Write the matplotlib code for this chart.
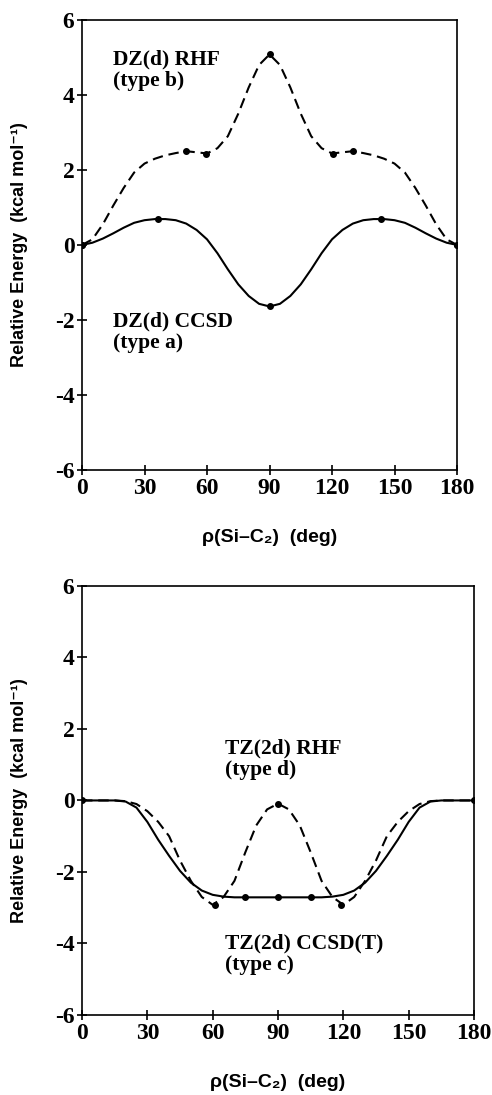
import matplotlib
matplotlib.use("Agg")
from matplotlib import pyplot as plt

# torsion angle grid (deg), read every 5 deg
rho = [0, 5, 10, 15, 20, 25, 30, 35, 40, 45, 50, 55, 60, 65, 70, 75, 80, 85, 90,
       95, 100, 105, 110, 115, 120, 125, 130, 135, 140, 145, 150, 155, 160, 165, 170, 175, 180]

# top panel: DZ(d)
dz_rhf = [0, 0.15, 0.55, 1.05, 1.52, 1.93, 2.17, 2.30, 2.39, 2.45, 2.50, 2.47, 2.44, 2.58, 2.90, 3.50, 4.20, 4.80, 5.08,
          4.80, 4.20, 3.50, 2.90, 2.58, 2.44, 2.47, 2.50, 2.45, 2.39, 2.30, 2.17, 1.93, 1.52, 1.05, 0.55, 0.15, 0]
dz_ccsd = [0, 0.06, 0.17, 0.31, 0.46, 0.59, 0.66, 0.69, 0.69, 0.66, 0.57, 0.40, 0.15, -0.22, -0.65, -1.05, -1.36, -1.57, -1.64,
           -1.57, -1.36, -1.05, -0.65, -0.22, 0.15, 0.40, 0.57, 0.66, 0.69, 0.69, 0.66, 0.59, 0.46, 0.31, 0.17, 0.06, 0]
dz_rhf_pts_x = [0, 50, 59.5, 90, 120.5, 130, 180]
dz_rhf_pts_y = [0, 2.50, 2.43, 5.08, 2.43, 2.50, 0]
dz_ccsd_pts_x = [0, 36.6, 90, 143.4, 180]
dz_ccsd_pts_y = [0, 0.69, -1.64, 0.69, 0]

# bottom panel: TZ(2d)
tz_rhf = [0, 0, 0, 0, -0.02, -0.10, -0.30, -0.60, -1.00, -1.68, -2.25, -2.70, -2.92, -2.70, -2.25, -1.45, -0.70, -0.25, -0.09,
          -0.25, -0.70, -1.45, -2.25, -2.70, -2.92, -2.70, -2.25, -1.68, -1.00, -0.60, -0.30, -0.10, -0.02, 0, 0, 0, 0]
tz_ccsd = [0, 0, 0, 0, -0.03, -0.20, -0.60, -1.10, -1.55, -1.97, -2.30, -2.52, -2.64, -2.69, -2.71, -2.71, -2.71, -2.71, -2.71,
           -2.71, -2.71, -2.71, -2.71, -2.69, -2.64, -2.52, -2.30, -1.97, -1.55, -1.10, -0.60, -0.20, -0.03, 0, 0, 0, 0]
tz_rhf_pts_x = [0, 61, 90, 119, 180]
tz_rhf_pts_y = [0, -2.93, -0.09, -2.93, 0]
tz_ccsd_pts_x = [75, 90, 105]
tz_ccsd_pts_y = [-2.71, -2.71, -2.71]

xticks = [0, 30, 60, 90, 120, 150, 180]
yticks = [-6, -4, -2, 0, 2, 4, 6]

plt.rcParams["axes.unicode_minus"] = False
serif = ["Liberation Serif", "DejaVu Serif"]
sans = ["Liberation Sans", "DejaVu Sans"]

fig = plt.figure(figsize=(4.92, 10.95), dpi=100, facecolor="white")
ax_top = fig.add_axes([0.1667, 0.5708, 0.7622, 0.411])
ax_bot = fig.add_axes([0.1667, 0.0731, 0.7967, 0.3918])

panels = [
    (ax_top, dz_ccsd, dz_rhf, dz_ccsd_pts_x, dz_ccsd_pts_y, dz_rhf_pts_x, dz_rhf_pts_y),
    (ax_bot, tz_ccsd, tz_rhf, tz_ccsd_pts_x, tz_ccsd_pts_y, tz_rhf_pts_x, tz_rhf_pts_y),
]

for ax, solid, dashed, sx, sy, dx, dy in panels:
    ax.plot(rho, solid, color="black", lw=1.5)
    ax.plot(rho, dashed, color="black", lw=1.5, ls=(0, (5, 2.8)))
    ax.plot(sx, sy, "o", color="black", ms=4)
    ax.plot(dx, dy, "o", color="black", ms=4)
    ax.set_xlim(0, 180)
    ax.set_ylim(-6, 6)
    ax.set_xticks(xticks)
    ax.set_yticks(yticks)
    ax.tick_params(direction="inout", length=7, width=1.2, pad=2)
    for lbl in ax.get_xticklabels() + ax.get_yticklabels():
        lbl.set_family(serif)
        lbl.set_fontweight("bold")
        lbl.set_fontsize(17)
    for sp in ax.spines.values():
        sp.set_linewidth(1.2)
    ax.set_xlabel("ρ(Si–C₂)  (deg)", family=sans, fontweight="bold", fontsize=14, labelpad=22)
    ax.set_ylabel("Relative Energy  (kcal mol⁻¹)", family=sans, fontweight="bold", fontsize=13)

ax_top.yaxis.set_label_coords(-0.145, 0.5)
ax_bot.yaxis.set_label_coords(-0.139, 0.5)

txt = dict(family=serif, fontweight="bold", fontsize=15.5, va="center", ha="left", linespacing=1.1)
ax_top.text(15, 4.65, "DZ(d) RHF\n(type b)", **txt)
ax_top.text(15, -2.32, "DZ(d) CCSD\n(type a)", **txt)
ax_bot.text(65.5, 1.15, "TZ(2d) RHF\n(type d)", **txt)
ax_bot.text(65.5, -4.3, "TZ(2d) CCSD(T)\n(type c)", **txt)

plt.savefig("out.png", dpi=100, facecolor="white")
plt.close()
